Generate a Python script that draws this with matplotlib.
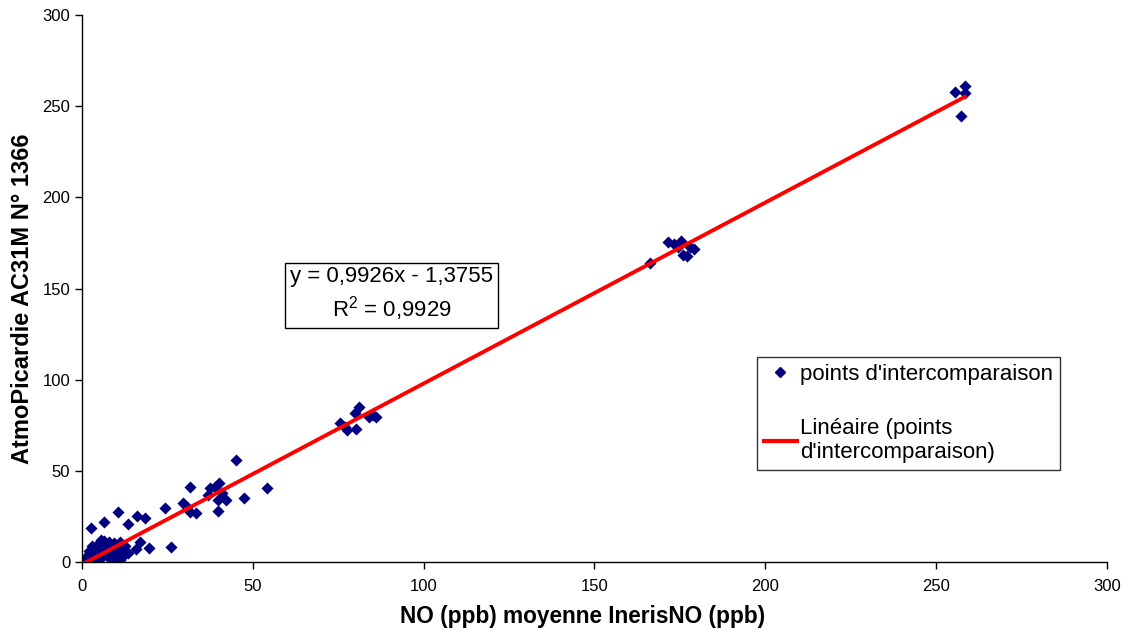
import matplotlib
matplotlib.use("Agg")
import matplotlib.pyplot as plt
from matplotlib.lines import Line2D
import numpy as np

plt.rcParams['font.family'] = ['Liberation Sans', 'DejaVu Sans']
plt.rcParams['mathtext.fontset'] = 'custom'
plt.rcParams['mathtext.rm'] = 'Liberation Sans'
plt.rcParams['mathtext.it'] = 'Liberation Sans'
plt.rcParams['mathtext.bf'] = 'Liberation Sans:bold'

# NO reference (x) vs AtmoPicardie analyser (y), ppb
x_low = [0.5, 1, 1.5, 2, 2.5, 3, 3, 3.5, 4, 4, 4.5, 5, 5, 5.5, 6, 6, 6.5, 7, 7, 7.5,
         8, 8, 8.5, 9, 9, 9.5, 10, 10, 10.5, 11, 11, 11.5, 12, 12.5, 12.5, 13.4, 10,
         2, 1.5, 3, 4.5, 6.5, 8, 11, 5.5, 9.5]
y_low = [0.5, 1.5, 0.8, 2.5, 1.2, 4, 2, 5.5, 3, 6.5, 2, 8, 4.5, 10, 6, 3, 9, 7.5, 5, 2.5,
         9.5, 6, 4, 8, 1.5, 5.5, 7, 3, 9.5, 5, 1, 7, 3.5, 9, 6, 4.8, 0.5,
         6, 3.5, 9, 9.5, 11.5, 11, 11, 12, 10.5]
x_mid = [2.6, 6.5, 10.6, 13.4, 16.0, 18.4, 17.1, 15.8, 19.6, 26.0, 24.3,
         29.6, 30.6, 31.6, 33.4, 31.6, 37.5, 38.9, 40.2, 40.9, 39.9, 42.3, 39.9,
         37.0, 45.0, 47.5, 54.3]
y_mid = [18.6, 21.8, 27.3, 20.7, 25.4, 24.0, 11.1, 7.0, 7.8, 8.1, 29.4,
         32.2, 30.3, 27.6, 26.7, 41.3, 40.4, 41.3, 43.2, 37.7, 34.0, 34.0, 28.1,
         36.8, 56.0, 34.9, 40.6]
x_80 = [75.5, 77.0, 77.5, 80.2, 79.9, 81.2, 84.1, 85.3, 86.2]
y_80 = [76.1, 74.2, 72.4, 72.8, 81.6, 85.2, 79.7, 80.6, 79.7]
x_170 = [166.2, 171.6, 173.2, 175.3, 174.5, 176.0, 177.0, 178.0, 179.0]
y_170 = [163.9, 175.7, 174.5, 176.0, 172.5, 168.5, 168.0, 172.5, 171.5]
x_255 = [255.5, 258.4, 258.4, 257.2]
y_255 = [258.0, 261.1, 257.1, 244.7]

x_pts = x_low + x_mid + x_80 + x_170 + x_255
y_pts = y_low + y_mid + y_80 + y_170 + y_255

slope = 0.9926
intercept = -1.3755
r2 = 0.9929

fig = plt.figure(figsize=(11.29, 6.34), dpi=100)
ax = fig.add_axes([0.0726, 0.1136, 0.9079, 0.8627])

ax.scatter(x_pts, y_pts, marker='D', s=38, color='#000080', linewidths=0, zorder=2)

xl = np.array([min(x_pts), max(x_pts)])
ax.plot(xl, slope * xl + intercept, color='#ff0000', lw=2.8, zorder=3)

ax.set_xlim(0, 300)
ax.set_ylim(0, 300)
ax.set_xticks(np.arange(0, 301, 50))
ax.set_yticks(np.arange(0, 301, 50))
ax.tick_params(labelsize=12, direction='out', length=5, width=1, color='black')
ax.tick_params(axis='x', pad=7)
for s in ['top', 'right']:
    ax.spines[s].set_visible(False)
for s in ['left', 'bottom']:
    ax.spines[s].set_color('black')
    ax.spines[s].set_linewidth(1)

ax.set_xlabel('NO (ppb) moyenne InerisNO (ppb)', fontsize=16.3, fontweight='bold')
ax.set_ylabel('AtmoPicardie AC31M N° 1366', fontsize=17, fontweight='bold')
ax.xaxis.set_label_coords(0.4888, -0.1005)
ax.xaxis.label.set_va('center')
ax.yaxis.set_label_coords(-0.0585, 0.481)
ax.yaxis.label.set_va('center')

eq = 'y = 0,9926x - 1,3755\nR$^2$ = 0,9929'
ax.text(0.3022, 0.489, eq, transform=ax.transAxes, fontsize=16, ha='center', va='center',
        linespacing=1.3,
        bbox=dict(boxstyle='square,pad=0.22', fc='white', ec='black', lw=1))

handles = [Line2D([], [], marker='D', color='#000080', ls='none', markersize=5),
           Line2D([], [], color='#ff0000', lw=3)]
labels = ["points d'intercomparaison", "Linéaire (points\nd'intercomparaison)"]
leg = ax.legend(handles, labels, loc='upper left', bbox_to_anchor=(0.6585, 0.3748),
                borderaxespad=0, fontsize=16, frameon=True, fancybox=False,
                edgecolor='black', labelspacing=1.5, handlelength=1.5,
                handletextpad=0.15, borderpad=0.3)
leg.get_frame().set_linewidth(1)

fig.savefig('out.png', dpi=100)
